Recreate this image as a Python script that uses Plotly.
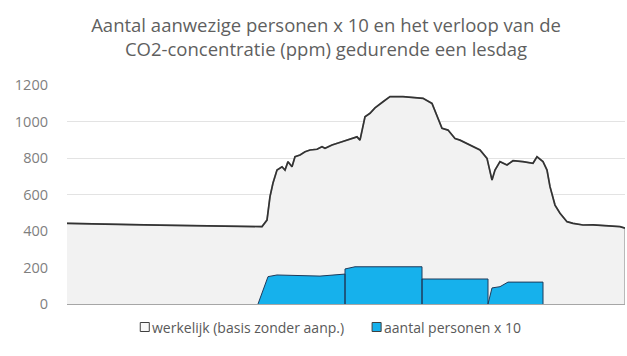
import plotly.graph_objects as go

# Measurement index (time samples across the school day)
co2_t = [0, 13, 33, 63, 93, 123, 153, 173, 195, 200, 203, 206, 210, 215, 218, 221, 225,
         228, 233, 238, 243, 250, 255, 258, 265, 275, 285, 290, 293, 298, 303, 308, 316,
         323, 336, 346, 356, 365, 370, 375, 381, 388, 393, 403, 413, 420, 423, 425, 428,
         433, 440, 446, 456, 466, 470, 476, 480, 483, 488, 493, 500, 506, 516, 526, 538,
         548, 553, 558]
co2_ppm = [442, 440, 438, 435, 432, 430, 428, 425, 424, 460, 588, 663, 734, 752, 734, 780, 752,
           807, 816, 834, 844, 848, 862, 853, 871, 889, 907, 916, 898, 1026, 1045, 1075, 1108,
           1136, 1136, 1130, 1127, 1099, 1036, 963, 953, 907, 898, 871, 844, 798, 734, 679, 734,
           780, 762, 785, 780, 771, 807, 780, 734, 643, 542, 497, 451, 442, 433, 434, 429,
           426, 424, 416]

pers_t = [191, 196, 199, 201, 210, 233, 253, 278, 278, 278, 288, 355, 355, 355, 418, 421,
          421, 425, 433, 441, 476, 476]
pers_x10 = [0, 77, 130, 150, 159, 157, 153, 164, 0, 192, 204, 204, 0, 137, 137, 137,
            0, 88, 95, 120, 120, 0]

y_ticks = [0, 200, 400, 600, 800, 1000, 1200]

title_text = ("Aantal aanwezige personen x 10 en het verloop van de<br>"
              "CO2-concentratie (ppm) gedurende een lesdag")
name_co2 = "werkelijk (basis zonder aanp.)"
name_pers = "aantal personen x 10"

FONT = "Open Sans"
BLUE = "#16B1EC"

fig = go.Figure()

# gray area under CO2 curve (closed on the right edge)
fig.add_trace(go.Scatter(
    x=co2_t + [co2_t[-1]], y=co2_ppm + [0],
    mode="lines", fill="tozeroy", fillcolor="#F2F2F2",
    line=dict(color="#A6A6A6", width=1.5), showlegend=False, hoverinfo="skip"))
# CO2 line
fig.add_trace(go.Scatter(
    x=co2_t, y=co2_ppm, mode="lines",
    line=dict(color="#333333", width=1.7), showlegend=False, name=name_co2))
# persons area
fig.add_trace(go.Scatter(
    x=pers_t, y=pers_x10, mode="lines", fill="tozeroy", fillcolor=BLUE,
    line=dict(color="#1F3A5A", width=1), showlegend=False, name=name_pers))

# legend (compact, symbol directly before the text, as in the original)
def px_x(px):
    return (px - 67) / 556

def px_y(py):
    return (304 - py) / 219

legend_items = [(140, "#F7F7F7", name_co2), (371, BLUE, name_pers)]
for left, color, label in legend_items:
    fig.add_shape(type="rect", xref="paper", yref="paper",
                  x0=px_x(left), x1=px_x(left + 9), y0=px_y(331.5), y1=px_y(322.5),
                  fillcolor=color, line=dict(color="#404040", width=1))
    fig.add_annotation(x=px_x(left + 10), y=px_y(327), xref="paper", yref="paper",
                       text=label, showarrow=False, xanchor="left", yanchor="middle",
                       font=dict(family=FONT, size=14, color="#595959"))

fig.update_layout(
    width=627, height=356,
    margin=dict(l=67, r=2, t=85, b=52),
    paper_bgcolor="white", plot_bgcolor="white",
    font=dict(family=FONT, color="#595959"),
    title=dict(text=title_text, x=0.52, xanchor="center", xref="container",
               y=1 - 32 / 356, yanchor="middle", yref="container",
               font=dict(family=FONT, size=18.5, color="#5F5F5F")),
    xaxis=dict(range=[0, 558], showticklabels=False, showgrid=False, zeroline=False,
               showline=False, ticks=""),
    yaxis=dict(range=[0, 1200], tickvals=y_ticks, ticktext=[str(v) for v in y_ticks],
               showgrid=True, gridcolor="#E3E3E3", gridwidth=1, zeroline=True,
               zerolinecolor="#A6A6A6", zerolinewidth=2, ticks="", ticklen=0,
               tickfont=dict(family=FONT, size=14.5, color="#7F7F7F"), ticklabelstandoff=18),
    showlegend=False,
)

fig.write_html("out.html")
